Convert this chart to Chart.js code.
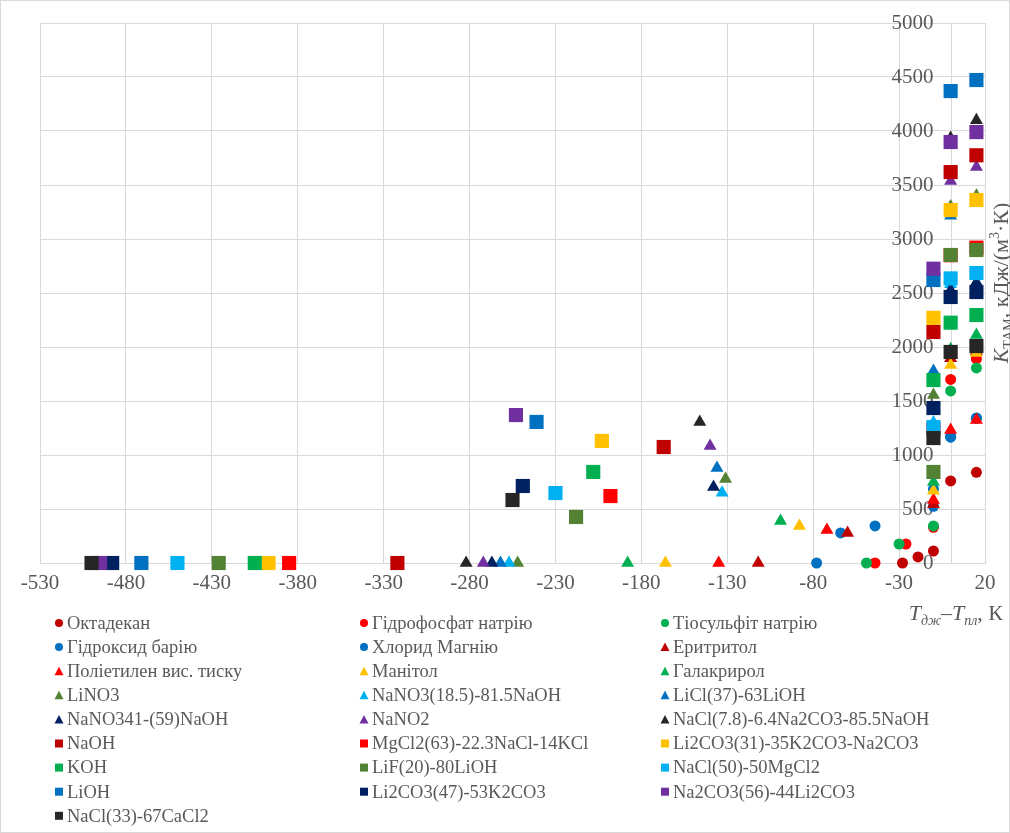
<!DOCTYPE html>
<html>
<head>
<meta charset="utf-8">
<script src="https://cdn.jsdelivr.net/npm/chart.js@4.4.1/dist/chart.umd.min.js"></script>
<style>
  html, body { margin: 0; padding: 0; background: #fff; }
  #wrap { width: 1010px; height: 833px; }
</style>
</head>
<body>
<div id="wrap"><canvas id="kChart" width="1010" height="833"></canvas></div>
<script>
// series names (legend order)
const seriesNames = [
    'Октадекан', 'Гідрофосфат натрію', 'Тіосульфіт натрію',
    'Гідроксид барію', 'Хлорид Магнію', 'Еритритол',
    'Поліетилен вис. тиску', 'Манітол', 'Галакрирол',
    'LiNO3', 'NaNO3(18.5)-81.5NaOH', 'LiCl(37)-63LiOH',
    'NaNO341-(59)NaOH', 'NaNO2', 'NaCl(7.8)-6.4Na2CO3-85.5NaOH',
    'NaOH', 'MgCl2(63)-22.3NaCl-14KCl', 'Li2CO3(31)-35K2CO3-Na2CO3',
    'KOH', 'LiF(20)-80LiOH', 'NaCl(50)-50MgCl2',
    'LiOH', 'Li2CO3(47)-53K2CO3', 'Na2CO3(56)-44Li2CO3',
    'NaCl(33)-67CaCl2'
];

// T_дж - T_пл, K
const xValues = [
    [-28, -19, -10, 0, 15],
    [-44, -26, -10, 0, 15],
    [-49, -30, -10, 0, 15],
    [-78, -44, -10, 0, 15],
    [-64, -10, 0, 15],
    [-112, -60, -10, 0, 15],
    [-135, -72, -10, 0, 15],
    [-166, -88, -10, 0, 15],
    [-188, -99, -10, 0, 15],
    [-252, -131, -10, 0, 15],
    [-257, -133, -10, 0, 15],
    [-262, -136, -10, 0, 15],
    [-267, -138, -10, 0, 15],
    [-272, -140, -10, 0, 15],
    [-282, -146, -10, 0, 15],
    [-322, -167, -10, 0, 15],
    [-385, -198, -10, 0, 15],
    [-397, -203, -10, 0, 15],
    [-405, -208, -10, 0, 15],
    [-426, -218, -10, 0, 15],
    [-450, -230, -10, 0, 15],
    [-471, -241, -10, 0, 15],
    [-488, -249, -10, 0, 15],
    [-495, -253, -10, 0, 15],
    [-500, -255, -10, 0, 15]
];

// K_ТАМ, кДж/(м3·К)
const yValues = [
    [0, 56, 111, 760, 840],
    [0, 176, 330, 1700, 1890],
    [0, 176, 343, 1593, 1806],
    [0, 343, 685, 1170, 1343],
    [278, 525, 1165, 1340],
    [0, 278, 545, 1895, 1960],
    [0, 305, 583, 1231, 1324],
    [0, 343, 670, 1833, 1945],
    [0, 389, 750, 1980, 2111],
    [0, 778, 1556, 3300, 3400],
    [0, 650, 1300, 2580, 2575],
    [0, 880, 1778, 3215, 3330],
    [0, 704, 1410, 2528, 2600],
    [0, 1083, 2170, 3537, 3667],
    [0, 1306, 2610, 3935, 4100],
    [0, 1074, 2139, 3620, 3775],
    [0, 620, 1240, 2850, 2920],
    [0, 1130, 2270, 3268, 3361],
    [0, 843, 1694, 2225, 2296],
    [0, 426, 843, 2852, 2898],
    [0, 648, 1259, 2635, 2685],
    [0, 1306, 2620, 4370, 4472],
    [0, 713, 1435, 2463, 2509],
    [0, 1370, 2725, 3898, 3990],
    [0, 583, 1157, 1954, 2009]
];

const xMin = -530, xMax = 20, xStep = 50;
const yMin = 0, yMax = 5000, yStep = 500;

const seriesColors = [
    '#C00000', '#FF0000', '#00B050',
    '#0070C0', '#0070C0', '#C00000',
    '#FF0000', '#FFC000', '#00B050',
    '#548235', '#00B0F0', '#0070C0',
    '#002060', '#7030A0', '#262626',
    '#C00000', '#FF0000', '#FFC000',
    '#00B050', '#548235', '#00B0F0',
    '#0070C0', '#002060', '#7030A0',
    '#262626'
];
const seriesShapes = [
    'circle', 'circle', 'circle', 'circle', 'circle',
    'triangle', 'triangle', 'triangle', 'triangle', 'triangle',
    'triangle', 'triangle', 'triangle', 'triangle', 'triangle',
    'rect', 'rect', 'rect', 'rect', 'rect',
    'rect', 'rect', 'rect', 'rect', 'rect'
];

const FONT = "'Liberation Serif', 'Times New Roman', serif";
const textColor = '#595959';
const gridColor = '#d9d9d9';
const radiusFor = { circle: 5.5, triangle: 7.5, rect: 10 };

const datasets = seriesNames.map((name, i) => ({
    label: name,
    data: xValues[i].map((x, j) => ({ x: x, y: yValues[i][j] })),
    pointStyle: seriesShapes[i],
    pointRadius: radiusFor[seriesShapes[i]],
    pointHoverRadius: radiusFor[seriesShapes[i]],
    backgroundColor: seriesColors[i],
    borderColor: seriesColors[i],
    pointBorderWidth: 0,
    clip: false,
    order: seriesNames.length - i
}));

function drawMarker(ctx, shape, x, y, s) {
    ctx.beginPath();
    if (shape === 'circle') {
        ctx.arc(x, y, s, 0, Math.PI * 2);
    } else if (shape === 'rect') {
        ctx.rect(x - s, y - s, 2 * s, 2 * s);
    } else {
        ctx.moveTo(x, y - s - 0.5);
        ctx.lineTo(x + s + 0.5, y + s);
        ctx.lineTo(x - s - 0.5, y + s);
        ctx.closePath();
    }
    ctx.fill();
}

// text made of pieces: font / vertical shift
function richWidth(ctx, parts) {
    let w = 0;
    parts.forEach(p => { ctx.font = p.font; w += ctx.measureText(p.t).width; });
    return w;
}
function drawRich(ctx, parts, x, y) {
    parts.forEach(p => {
        ctx.font = p.font;
        ctx.fillText(p.t, x, y + (p.dy || 0));
        x += ctx.measureText(p.t).width;
    });
}

const legendCols = [59, 364, 665];
const legendTop = 623;
const legendStep = 24.1;

const extras = {
    id: 'extras',
    beforeDatasetsDraw(chart) {
        // y axis line sits at x = 0
        const ctx = chart.ctx;
        const px = Math.round(chart.scales.x.getPixelForValue(0)) + 0.5;
        ctx.save();
        ctx.strokeStyle = gridColor;
        ctx.lineWidth = 1;
        ctx.beginPath();
        ctx.moveTo(px, chart.chartArea.top);
        ctx.lineTo(px, chart.chartArea.bottom);
        ctx.stroke();
        ctx.restore();
    },
    afterDraw(chart) {
        const ctx = chart.ctx;
        ctx.save();
        ctx.strokeStyle = gridColor;
        ctx.lineWidth = 1;
        ctx.strokeRect(0.5, 0.5, chart.width - 1, chart.height - 1);

        // legend, 3 columns
        chart.data.datasets.forEach((ds, i) => {
            const mx = legendCols[i % 3];
            const my = legendTop + Math.floor(i / 3) * legendStep;
            ctx.fillStyle = ds.backgroundColor;
            drawMarker(ctx, ds.pointStyle, mx, my, 4);
            ctx.fillStyle = textColor;
            ctx.font = '18.5px ' + FONT;
            ctx.textAlign = 'left';
            ctx.textBaseline = 'middle';
            ctx.fillText(ds.label, mx + 8, my + 1);
        });

        ctx.fillStyle = textColor;
        ctx.textAlign = 'left';
        ctx.textBaseline = 'alphabetic';

        // x title
        const xt = [
            { t: 'T', font: 'italic 22px ' + FONT },
            { t: 'дж', font: 'italic 14px ' + FONT, dy: 5 },
            { t: '–', font: '22px ' + FONT },
            { t: 'T', font: 'italic 22px ' + FONT },
            { t: 'пл', font: 'italic 14px ' + FONT, dy: 5 },
            { t: ', К', font: '22px ' + FONT }
        ];
        drawRich(ctx, xt, 1003 - richWidth(ctx, xt), 620);

        // y title, rotated
        const yt = [
            { t: 'K', font: 'italic 22px ' + FONT },
            { t: 'ТАМ', font: '14px ' + FONT, dy: 5 },
            { t: ', кДж/(м', font: '22px ' + FONT },
            { t: '3', font: '14px ' + FONT, dy: -9 },
            { t: '·К)', font: '22px ' + FONT }
        ];
        ctx.translate(1008, 283);
        ctx.rotate(-Math.PI / 2);
        drawRich(ctx, yt, -richWidth(ctx, yt) / 2, 0);
        ctx.restore();
    }
};

new Chart(document.getElementById('kChart'), {
    type: 'scatter',
    data: { datasets: datasets },
    options: {
        responsive: false,
        animation: false,
        events: [],
        layout: { padding: { left: 40, right: 25, top: 23, bottom: 270 } },
        plugins: {
            legend: { display: false },
            tooltip: { enabled: false }
        },
        scales: {
            x: {
                type: 'linear',
                min: xMin,
                max: xMax,
                position: { y: 0 },
                ticks: {
                    stepSize: xStep,
                    autoSkip: false,
                    maxRotation: 0,
                    padding: 8,
                    color: textColor,
                    font: { family: FONT, size: 21 },
                    callback: v => String(v)
                },
                grid: { color: gridColor, drawTicks: false },
                border: { color: gridColor }
            },
            y: {
                type: 'linear',
                min: yMin,
                max: yMax,
                // labels end ~17px left of the x = 0 line, which is drawn by the plugin
                position: { x: -10 },
                ticks: {
                    stepSize: yStep,
                    padding: 0,
                    color: textColor,
                    font: { family: FONT, size: 21 },
                    callback: v => String(v)
                },
                grid: { color: gridColor, drawTicks: false },
                border: { display: false }
            }
        }
    },
    plugins: [extras]
});
</script>
</body>
</html>
